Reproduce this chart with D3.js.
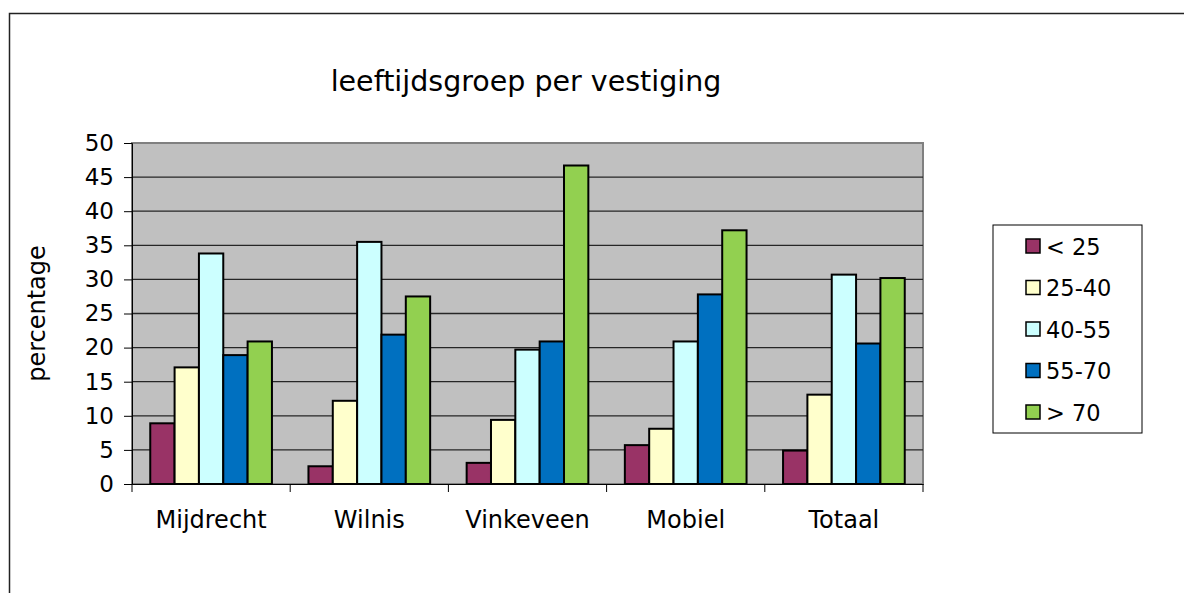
<!DOCTYPE html>
<html lang="nl">
<head>
<meta charset="utf-8"/>
<title>leeftijdsgroep per vestiging</title>
<script src="https://d3js.org/d3.v7.min.js"></script>
<style>
body { margin: 0; background: #fff; }
text { font-family: "DejaVu Sans", Verdana, sans-serif; fill: #000; }
.grid line { stroke: #262626; stroke-width: 1.3; }
.axis path, .axis line { stroke: #000; stroke-width: 1; }
.bar { stroke: #000; stroke-width: 2; }
</style>
</head>
<body>
<div id="chart"></div>
<script>
// data
var locations = ["Mijdrecht", "Wilnis", "Vinkeveen", "Mobiel", "Totaal"];
var ageGroups = ["< 25", "25-40", "40-55", "55-70", "> 70"];
var groupColors = ["#993366", "#FFFFCC", "#CCFFFF", "#0070C0", "#92D050"];
var under25 = [8.9, 2.6, 3.1, 5.7, 4.9];
var age25to40 = [17.1, 12.2, 9.4, 8.1, 13.1];
var age40to55 = [33.8, 35.5, 19.7, 20.9, 30.7];
var age55to70 = [18.9, 21.9, 20.9, 27.8, 20.6];
var over70 = [20.9, 27.5, 46.7, 37.2, 30.2];
var yTicks = [0, 5, 10, 15, 20, 25, 30, 35, 40, 45, 50];

var series = [under25, age25to40, age40to55, age55to70, over70];

var w = 1184, h = 593;
var plot = {left: 132, right: 923, top: 143, bottom: 484};

var svg = d3.select("#chart").append("svg")
    .attr("width", w)
    .attr("height", h);

// outer chart frame
svg.append("path")
   .attr("d", "M9.5," + h + "V13.5H" + w)
   .attr("fill", "none")
   .attr("stroke", "#222")
   .attr("stroke-width", 1.5);

var xScale = d3.scaleBand()
    .domain(locations)
    .range([plot.left, plot.right])
    .paddingInner(0)
    .paddingOuter(0);

var innerScale = d3.scaleBand()
    .domain(ageGroups)
    .range([0, xScale.bandwidth()])
    .paddingOuter(0.75)
    .paddingInner(0);

var yScale = d3.scaleLinear()
    .domain([0, 50])
    .range([plot.bottom, plot.top]);

// plot background
svg.append("rect")
   .attr("x", plot.left)
   .attr("y", plot.top)
   .attr("width", plot.right - plot.left)
   .attr("height", plot.bottom - plot.top)
   .attr("fill", "#C0C0C0")
   .attr("stroke", "#808080")
   .attr("stroke-width", 2);

// gridlines
svg.append("g")
   .attr("class", "grid")
   .selectAll("line")
   .data(yTicks.filter(function(d){ return d > 0 && d < 50; }))
   .join("line")
   .attr("x1", plot.left)
   .attr("x2", plot.right)
   .attr("y1", function(d){ return yScale(d); })
   .attr("y2", function(d){ return yScale(d); });

// bars
var groups = svg.append("g")
   .selectAll("g")
   .data(locations)
   .join("g")
   .attr("transform", function(d){ return "translate(" + xScale(d) + ",0)"; });

groups.selectAll("rect")
   .data(function(d, i){
       return ageGroups.map(function(a, j){ return {group: a, value: series[j][i], color: groupColors[j]}; });
   })
   .join("rect")
   .attr("class", "bar")
   .attr("x", function(d){ return innerScale(d.group); })
   .attr("y", function(d){ return yScale(d.value); })
   .attr("width", innerScale.bandwidth())
   .attr("height", function(d){ return yScale(0) - yScale(d.value); })
   .attr("fill", function(d){ return d.color; });

// y axis
var yAxis = d3.axisLeft(yScale)
    .tickValues(yTicks)
    .tickSize(8)
    .tickPadding(10);

svg.append("g")
   .attr("class", "axis")
   .attr("transform", "translate(" + plot.left + ",0)")
   .call(yAxis)
   .call(function(g){ g.select(".domain").attr("stroke-width", 1.5); })
   .selectAll("text")
   .attr("font-size", 23);

// x axis
var xAxis = d3.axisBottom(xScale)
    .tickSize(0)
    .tickPadding(27);

var xg = svg.append("g")
   .attr("class", "axis")
   .attr("transform", "translate(0," + plot.bottom + ")")
   .call(xAxis);
xg.select(".domain").attr("stroke-width", 1.5);
xg.selectAll("text").attr("font-size", 24);

// category separators on x axis
xg.selectAll(".sep")
   .data(locations.concat(["end"]))
   .join("line")
   .attr("class", "sep")
   .attr("x1", function(d, i){ return plot.left + i * xScale.step(); })
   .attr("x2", function(d, i){ return plot.left + i * xScale.step(); })
   .attr("y1", 0)
   .attr("y2", 8)
   .attr("stroke", "#000");

// titles
svg.append("text")
   .attr("x", 526)
   .attr("y", 91)
   .attr("text-anchor", "middle")
   .attr("font-size", 28.5)
   .text("leeftijdsgroep per vestiging");

svg.append("text")
   .attr("transform", "translate(45," + ((plot.top + plot.bottom) / 2) + ") rotate(-90)")
   .attr("text-anchor", "middle")
   .attr("font-size", 24)
   .text("percentage");

// legend
var legend = svg.append("g").attr("transform", "translate(993,225)");
legend.append("rect")
   .attr("width", 149)
   .attr("height", 208)
   .attr("fill", "#fff")
   .attr("stroke", "#000")
   .attr("stroke-width", 1);

var items = legend.selectAll(".item")
   .data(ageGroups)
   .join("g")
   .attr("class", "item")
   .attr("transform", function(d, i){ return "translate(0," + (21 + i * 41.5) + ")"; });

items.append("rect")
   .attr("x", 33)
   .attr("y", -7)
   .attr("width", 14)
   .attr("height", 14)
   .attr("fill", function(d, i){ return groupColors[i]; })
   .attr("stroke", "#000")
   .attr("stroke-width", 1.5);

items.append("text")
   .attr("x", 53)
   .attr("y", 8.5)
   .attr("font-size", 22.5)
   .text(function(d){ return d; });
</script>
</body>
</html>
